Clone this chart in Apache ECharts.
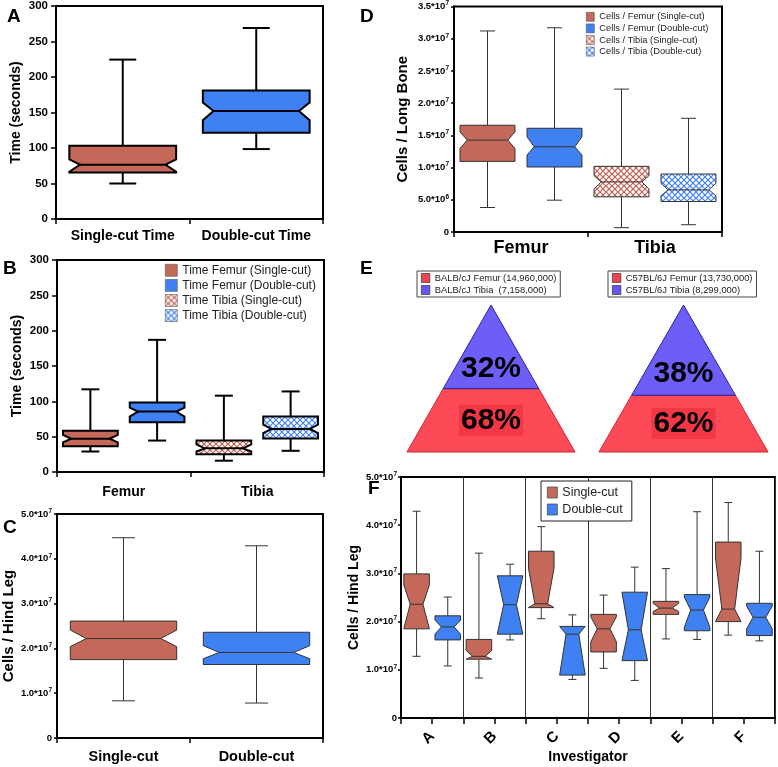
<!DOCTYPE html>
<html><head><meta charset="utf-8">
<script src="https://cdn.jsdelivr.net/npm/echarts@6/dist/echarts.min.js"></script>
<style>html,body{margin:0;padding:0;background:#fff}#c{width:778px;height:767px}</style>
</head><body><div id="c"></div>
<script>
// ---------- DATA ----------
// stats order for every box: [whiskerLow, q1, notchLow, median, notchHigh, q3, whiskerHigh]
const A_categories = ['Single-cut Time', 'Double-cut Time'];
const A_singleCut = [50, 65.5, 66.5, 76.5, 84, 103, 224.5];
const A_doubleCut = [98.5, 121.5, 139, 152, 164, 181, 269];

const B_categories = ['Femur', 'Tibia'];
const B_names = ['Time Femur (Single-cut)', 'Time Femur (Double-cut)', 'Time Tibia (Single-cut)', 'Time Tibia (Double-cut)'];
const B_femurSingle = [29, 36.5, 42, 47, 52.5, 58.5, 117];
const B_femurDouble = [44.5, 70.5, 78.5, 85.5, 91, 98.5, 187];
const B_tibiaSingle = [16, 25, 29, 33.5, 39, 44.5, 108];
const B_tibiaDouble = [30, 47.5, 55, 61, 67, 78.5, 114];

const C_categories = ['Single-cut', 'Double-cut'];
const C_singleCut = [8.3e6, 1.75e7, 2.04e7, 2.22e7, 2.41e7, 2.61e7, 4.47e7];
const C_doubleCut = [7.8e6, 1.64e7, 1.77e7, 1.91e7, 2.06e7, 2.36e7, 4.29e7];

const D_categories = ['Femur', 'Tibia'];
const D_names = ['Cells / Femur (Single-cut)', 'Cells / Femur (Double-cut)', 'Cells / Tibia (Single-cut)', 'Cells / Tibia (Double-cut)'];
const D_femurSingle = [3.8e6, 1.096e7, 1.297e7, 1.426e7, 1.554e7, 1.657e7, 3.12e7];
const D_femurDouble = [4.94e6, 1.009e7, 1.194e7, 1.323e7, 1.477e7, 1.61e7, 3.17e7];
const D_tibiaSingle = [6.7e5, 5.46e6, 6.69e6, 7.77e6, 8.75e6, 1.019e7, 2.218e7];
const D_tibiaDouble = [1.13e6, 4.73e6, 5.61e6, 6.54e6, 7.57e6, 9.0e6, 1.765e7];

const E_strains = ['BALB/cJ', 'C57BL/6J'];
const E_femurCells = [14960000, 13730000];
const E_tibiaCells = [7158000, 8299000];

const F_investigators = ['A', 'B', 'C', 'D', 'E', 'F'];
const F_names = ['Single-cut', 'Double-cut'];
const F_singleCut = [
  [1.28e7, 1.85e7, 1.85e7, 2.36e7, 2.76e7, 2.99e7, 4.29e7],
  [0.83e7, 1.22e7, 1.22e7, 1.28e7, 1.40e7, 1.63e7, 3.42e7],
  [2.06e7, 2.29e7, 2.29e7, 2.37e7, 3.11e7, 3.46e7, 3.97e7],
  [1.03e7, 1.37e7, 1.58e7, 1.85e7, 2.10e7, 2.15e7, 2.55e7],
  [1.64e7, 2.15e7, 2.21e7, 2.28e7, 2.38e7, 2.42e7, 3.10e7],
  [1.72e7, 2.00e7, 2.00e7, 2.26e7, 3.32e7, 3.65e7, 4.47e7]
];
const F_doubleCut = [
  [1.08e7, 1.62e7, 1.74e7, 1.89e7, 2.03e7, 2.12e7, 2.51e7],
  [1.62e7, 1.74e7, 1.74e7, 2.35e7, 2.95e7, 2.95e7, 3.19e7],
  [0.80e7, 0.89e7, 0.89e7, 1.74e7, 1.90e7, 1.90e7, 2.14e7],
  [0.78e7, 1.19e7, 1.19e7, 1.83e7, 2.61e7, 2.61e7, 3.13e7],
  [1.63e7, 1.81e7, 1.88e7, 2.24e7, 2.51e7, 2.56e7, 4.28e7],
  [1.60e7, 1.71e7, 1.85e7, 2.09e7, 2.32e7, 2.38e7, 3.46e7]
];

// ---------- STYLE ----------
const FONT = '"Liberation Sans", Arial, Helvetica, sans-serif';
const BROWN = '#c4695a';
const BLUE = '#3f80f3';
const E_RED = '#fc4a56';
const E_BLUE = '#6c5ef7';

function hatch(color) {
  const c = document.createElement('canvas');
  c.width = 6; c.height = 6;
  const g = c.getContext('2d');
  g.fillStyle = '#fff'; g.fillRect(0, 0, 6, 6);
  g.strokeStyle = color; g.lineWidth = 1.2;
  g.beginPath();
  g.moveTo(0, 0); g.lineTo(6, 6);
  g.moveTo(6, 0); g.lineTo(0, 6);
  g.stroke();
  return { image: c, repeat: 'repeat' };
}
const HATCH_BROWN = hatch('#c0604f');
const HATCH_BLUE = hatch('#3f80f3');

function boxRender(cfg) {
  return function (params, api) {
    const cat = api.value(0);
    const s = [1, 2, 3, 4, 5, 6, 7].map(i => api.value(i));
    const Y = v => api.coord([cat, v])[1];
    const band = api.size([1, 0])[0];
    const cx = api.coord([cat, s[3]])[0] + cfg.offset * band;
    const w = cfg.width * band;
    const x0 = cx - w / 2, x1 = cx + w / 2, ins = cfg.inset * w;
    const [yWL, yQ1, yNL, yMD, yNH, yQ3, yWH] = s.map(Y);
    const fill = cfg.fills[params.dataIndex % cfg.fills.length];
    const ls = { stroke: cfg.boxStroke, lineWidth: cfg.boxWidth };
    const ws = { stroke: cfg.whiskerStroke, lineWidth: cfg.whiskerWidth };
    const c = cfg.cap / 2;
    return {
      type: 'group', children: [
        { type: 'line', shape: { x1: cx, y1: yQ3, x2: cx, y2: yWH }, style: ws },
        { type: 'line', shape: { x1: cx - c, y1: yWH, x2: cx + c, y2: yWH }, style: ws },
        { type: 'line', shape: { x1: cx, y1: yQ1, x2: cx, y2: yWL }, style: ws },
        { type: 'line', shape: { x1: cx - c, y1: yWL, x2: cx + c, y2: yWL }, style: ws },
        { type: 'polygon', shape: { points: [[x0, yQ3], [x1, yQ3], [x1, yNH], [x1 - ins, yMD], [x1, yNL], [x1, yQ1], [x0, yQ1], [x0, yNL], [x0 + ins, yMD], [x0, yNH]] }, style: Object.assign({ fill: fill }, ls) },
        { type: 'line', shape: { x1: x0 + ins, y1: yMD, x2: x1 - ins, y2: yMD }, style: ls }
      ]
    };
  };
}

function boxSeries(name, xi, yi, rows, fills, cfg) {
  return {
    type: 'custom', name: name, xAxisIndex: xi, yAxisIndex: yi,
    itemStyle: { color: fills[0] },
    encode: { x: 0, y: [1, 2, 3, 4, 5, 6, 7] },
    data: rows.map(r => [r[0]].concat(r[1])),
    renderItem: boxRender(Object.assign({ fills: fills }, cfg)),
    z: 3
  };
}

const thick = { whiskerStroke: '#000', whiskerWidth: 2, boxStroke: '#000', boxWidth: 2 };
const thin = { whiskerStroke: '#333', whiskerWidth: 1, boxStroke: '#333', boxWidth: 1 };

function triRender(part) {
  return function (params, api) {
    const fem = api.value(0), tib = api.value(1);
    const t = tib / (fem + tib);
    const s = Math.sqrt(t);
    const P = (x, y) => api.coord([x, y]);
    if (part === 'tibia') {
      const tp = P(0, 1 - 0.765 * s);
      return {
        type: 'group', children: [
          { type: 'polygon', shape: { points: [P(0, 1), P(s, 1 - s), P(-s, 1 - s)] }, style: { fill: E_BLUE, stroke: '#2d1f9e', lineWidth: 1 } },
          { type: 'text', x: tp[0], y: tp[1], style: { text: Math.round(t * 100) + '%', font: 'bold 30px ' + FONT, fill: '#000', align: 'center', verticalAlign: 'middle' } }
        ]
      };
    }
    const bp = P(0, (1 - s) / 2);
    return {
      type: 'group', children: [
        { type: 'polygon', shape: { points: [P(-1, 0), P(1, 0), P(s, 1 - s), P(-s, 1 - s)] }, style: { fill: E_RED, stroke: '#d0202e', lineWidth: 1 } },
        { type: 'text', x: bp[0], y: bp[1], style: { text: Math.round((1 - t) * 100) + '%', font: 'bold 30px ' + FONT, fill: '#000', align: 'center', verticalAlign: 'middle', backgroundColor: 'rgba(225,20,40,0.35)', padding: [1, 2, 0, 2] } }
      ]
    };
  };
}

const fmt = n => n.toLocaleString('en-US');
const E_femurNames = E_strains.map((s, i) => s + ' Femur (' + fmt(E_femurCells[i]) + ')');
const E_tibiaNames = E_strains.map((s, i) => s + ' Tibia' + (i === 0 ? '  ' : ' ') + '(' + fmt(E_tibiaCells[i]) + ')');

function sci(v) {
  if (v === 0) return '{b|0}';
  const e = Math.floor(Math.log10(v) + 1e-9);
  const m = v / Math.pow(10, e);
  return '{b|' + m.toFixed(1) + '*10}{s|' + e + '}';
}
const sciRich = {
  b: { fontSize: 9.5, fontWeight: 'bold', color: '#000', lineHeight: 13, fontFamily: FONT },
  s: { fontSize: 6.5, fontWeight: 'bold', color: '#000', lineHeight: 7, verticalAlign: 'top', fontFamily: FONT }
};

const axLine = { show: true, onZero: false, lineStyle: { color: '#000', width: 2 } };
const tick = (len) => ({ show: true, length: len, lineStyle: { color: '#000', width: 1.5 } });
const gridBase = { show: true, borderColor: '#000', borderWidth: 2, backgroundColor: 'transparent' };
const catLabel = (size, margin) => ({ interval: 0, fontSize: size, fontWeight: 'bold', color: '#000', margin: margin });

const option = {
  animation: false,
  textStyle: { fontFamily: FONT },
  grid: [
    Object.assign({ left: 56, top: 5, width: 267, height: 214 }, gridBase),
    Object.assign({ left: 57, top: 260, width: 267, height: 212 }, gridBase),
    Object.assign({ left: 57, top: 514, width: 266, height: 224 }, gridBase),
    Object.assign({ left: 454, top: 6, width: 268, height: 226 }, gridBase),
    Object.assign({ left: 401, top: 477, width: 374, height: 241 }, gridBase),
    { left: 407, top: 305, width: 168, height: 147, show: false },
    { left: 599, top: 305, width: 169, height: 147, show: false }
  ],
  xAxis: [
    { type: 'category', gridIndex: 0, position: 'bottom', data: A_categories, axisLine: axLine, axisTick: tick(5), axisLabel: catLabel(14, 10) },
    { type: 'category', gridIndex: 1, position: 'bottom', data: B_categories, axisLine: axLine, axisTick: tick(5), axisLabel: catLabel(14, 13) },
    { type: 'category', gridIndex: 2, position: 'bottom', data: C_categories, axisLine: axLine, axisTick: tick(5), axisLabel: catLabel(14.5, 11) },
    { type: 'category', gridIndex: 3, position: 'bottom', data: D_categories, axisLine: axLine, axisTick: tick(5), axisLabel: catLabel(18, 7) },
    {
      // investigator axis: value scale so ticks land on both category centres and boundaries
      type: 'value', gridIndex: 4, position: 'bottom', min: -0.5, max: F_investigators.length - 0.5, interval: 0.5,
      axisLine: axLine, axisTick: tick(6), splitLine: { show: false },
      axisLabel: {
        fontSize: 15, fontWeight: 'bold', color: '#000', margin: 16, rotate: 45, showMinLabel: true, showMaxLabel: true,
        formatter: v => (Number.isInteger(v) ? F_investigators[v] : '')
      },
      name: 'Investigator', nameLocation: 'middle', nameGap: 32,
      nameTextStyle: { fontSize: 14, fontWeight: 'bold', color: '#000' }
    },
    // separator lines between investigators
    { type: 'value', gridIndex: 4, position: 'bottom', min: -0.5, max: F_investigators.length - 0.5, interval: 1, axisLine: { show: false, onZero: false }, axisTick: { show: false }, axisLabel: { show: false }, splitLine: { show: true, lineStyle: { color: '#333', width: 1 } } },
    { type: 'value', gridIndex: 5, min: -1, max: 1, show: false },
    { type: 'value', gridIndex: 6, min: -1, max: 1, show: false }
  ],
  yAxis: [
    { type: 'value', gridIndex: 0, min: 0, max: 300, interval: 50, axisLine: axLine, axisTick: tick(5), splitLine: { show: false }, axisLabel: { fontSize: 11.5, fontWeight: 'bold', color: '#000', margin: 8 }, name: 'Time (seconds)', nameLocation: 'middle', nameGap: 33, nameTextStyle: { fontSize: 14, fontWeight: 'bold', color: '#000' } },
    { type: 'value', gridIndex: 1, min: 0, max: 300, interval: 50, axisLine: axLine, axisTick: tick(5), splitLine: { show: false }, axisLabel: { fontSize: 11.5, fontWeight: 'bold', color: '#000', margin: 8 }, name: 'Time (seconds)', nameLocation: 'middle', nameGap: 33, nameTextStyle: { fontSize: 14, fontWeight: 'bold', color: '#000' } },
    { type: 'value', gridIndex: 2, min: 0, max: 5e7, interval: 1e7, axisLine: axLine, axisTick: tick(3), splitLine: { show: false }, axisLabel: { formatter: sci, rich: sciRich, margin: 5 }, name: 'Cells / Hind Leg', nameLocation: 'middle', nameGap: 41, nameTextStyle: { fontSize: 15, fontWeight: 'bold', color: '#000' } },
    { type: 'value', gridIndex: 3, min: 0, max: 3.5e7, interval: 5e6, axisLine: axLine, axisTick: tick(3), splitLine: { show: false }, axisLabel: { formatter: sci, rich: sciRich, margin: 5 }, name: 'Cells / Long Bone', nameLocation: 'middle', nameGap: 44, nameTextStyle: { fontSize: 15, fontWeight: 'bold', color: '#000' } },
    { type: 'value', gridIndex: 4, position: 'left', min: 0, max: 5e7, interval: 1e7, axisLine: axLine, axisTick: tick(3), splitLine: { show: false }, axisLabel: { formatter: sci, rich: sciRich, margin: 4 }, name: 'Cells / Hind Leg', nameLocation: 'middle', nameGap: 40, nameTextStyle: { fontSize: 14, fontWeight: 'bold', color: '#000' } },
    { type: 'value', gridIndex: 5, min: 0, max: 1, show: false },
    { type: 'value', gridIndex: 6, min: 0, max: 1, show: false }
  ],
  legend: [
    { left: 165, top: 264, orient: 'vertical', icon: 'rect', padding: 0, itemWidth: 12, itemHeight: 12, itemGap: 2.5, selectedMode: false, textStyle: { fontSize: 12, lineHeight: 12, color: '#222' }, itemStyle: { borderColor: '#555', borderWidth: 0.6 }, data: B_names },
    { left: 586, top: 12, orient: 'vertical', icon: 'rect', padding: 0, itemWidth: 8, itemHeight: 9, itemGap: 2, selectedMode: false, textStyle: { fontSize: 9.3, lineHeight: 9, color: '#222' }, itemStyle: { borderColor: '#555', borderWidth: 0.6 }, data: D_names },
    { left: 417, top: 271, orient: 'vertical', icon: 'rect', padding: [2, 4, 2, 4], borderColor: '#444', borderWidth: 1, backgroundColor: '#fff', itemWidth: 8.5, itemHeight: 9, itemGap: 2, selectedMode: false, textStyle: { fontSize: 9.4, lineHeight: 10, color: '#222' }, itemStyle: { borderColor: '#333', borderWidth: 0.7 }, data: [E_femurNames[0], E_tibiaNames[0]] },
    { left: 608, top: 271, orient: 'vertical', icon: 'rect', padding: [2, 4, 2, 4], borderColor: '#444', borderWidth: 1, backgroundColor: '#fff', itemWidth: 8.5, itemHeight: 9, itemGap: 2, selectedMode: false, textStyle: { fontSize: 9.4, lineHeight: 10, color: '#222' }, itemStyle: { borderColor: '#333', borderWidth: 0.7 }, data: [E_femurNames[1], E_tibiaNames[1]] },
    { left: 541, top: 481, orient: 'vertical', icon: 'rect', padding: [5, 9, 5, 6], borderColor: '#222', borderWidth: 1, backgroundColor: '#fff', itemWidth: 10, itemHeight: 11, itemGap: 4, selectedMode: false, textStyle: { fontSize: 12.5, lineHeight: 11, color: '#222' }, itemStyle: { borderColor: '#444', borderWidth: 0.7 }, data: F_names }
  ],
  graphic: [
    { type: 'text', left: 7, top: 7, style: { text: 'A', font: 'bold 19px ' + FONT, fill: '#000' } },
    { type: 'text', left: 3, top: 259, style: { text: 'B', font: 'bold 19px ' + FONT, fill: '#000' } },
    { type: 'text', left: 3, top: 518, style: { text: 'C', font: 'bold 19px ' + FONT, fill: '#000' } },
    { type: 'text', left: 360, top: 7, style: { text: 'D', font: 'bold 19px ' + FONT, fill: '#000' } },
    { type: 'text', left: 360, top: 259, style: { text: 'E', font: 'bold 19px ' + FONT, fill: '#000' } },
    { type: 'text', left: 368, top: 479, style: { text: 'F', font: 'bold 19px ' + FONT, fill: '#000' } }
  ],
  series: [
    boxSeries('Panel A', 0, 0, [[0, A_singleCut], [1, A_doubleCut]], [BROWN, BLUE], Object.assign({ offset: 0, width: 0.8, inset: 0.1, cap: 27 }, thick)),
    boxSeries(B_names[0], 1, 1, [[0, B_femurSingle]], [BROWN], Object.assign({ offset: -0.25, width: 0.41, inset: 0.15, cap: 18 }, thick)),
    boxSeries(B_names[1], 1, 1, [[0, B_femurDouble]], [BLUE], Object.assign({ offset: 0.25, width: 0.41, inset: 0.15, cap: 18 }, thick)),
    boxSeries(B_names[2], 1, 1, [[1, B_tibiaSingle]], [HATCH_BROWN], Object.assign({ offset: -0.25, width: 0.41, inset: 0.15, cap: 18 }, thick)),
    boxSeries(B_names[3], 1, 1, [[1, B_tibiaDouble]], [HATCH_BLUE], Object.assign({ offset: 0.25, width: 0.41, inset: 0.15, cap: 18 }, thick)),
    boxSeries('Panel C', 2, 2, [[0, C_singleCut], [1, C_doubleCut]], [BROWN, BLUE], Object.assign({ offset: 0, width: 0.8, inset: 0.15, cap: 23 }, thin)),
    boxSeries(D_names[0], 3, 3, [[0, D_femurSingle]], [BROWN], Object.assign({ offset: -0.25, width: 0.41, inset: 0.13, cap: 15 }, thin)),
    boxSeries(D_names[1], 3, 3, [[0, D_femurDouble]], [BLUE], Object.assign({ offset: 0.25, width: 0.41, inset: 0.13, cap: 15 }, thin)),
    boxSeries(D_names[2], 3, 3, [[1, D_tibiaSingle]], [HATCH_BROWN], Object.assign({ offset: -0.25, width: 0.41, inset: 0.13, cap: 15 }, thin)),
    boxSeries(D_names[3], 3, 3, [[1, D_tibiaDouble]], [HATCH_BLUE], Object.assign({ offset: 0.25, width: 0.41, inset: 0.13, cap: 15 }, thin)),
    boxSeries(F_names[0], 4, 4, F_singleCut.map((r, i) => [i, r]), [BROWN], Object.assign({ offset: -0.25, width: 0.41, inset: 0.25, cap: 8 }, thin)),
    boxSeries(F_names[1], 4, 4, F_doubleCut.map((r, i) => [i, r]), [BLUE], Object.assign({ offset: 0.25, width: 0.41, inset: 0.25, cap: 8 }, thin)),
    { type: 'custom', name: E_femurNames[0], xAxisIndex: 6, yAxisIndex: 5, itemStyle: { color: '#f04550' }, data: [[E_femurCells[0], E_tibiaCells[0]]], renderItem: triRender('femur') },
    { type: 'custom', name: E_tibiaNames[0], xAxisIndex: 6, yAxisIndex: 5, itemStyle: { color: '#6655f0' }, data: [[E_femurCells[0], E_tibiaCells[0]]], renderItem: triRender('tibia') },
    { type: 'custom', name: E_femurNames[1], xAxisIndex: 7, yAxisIndex: 6, itemStyle: { color: '#f04550' }, data: [[E_femurCells[1], E_tibiaCells[1]]], renderItem: triRender('femur') },
    { type: 'custom', name: E_tibiaNames[1], xAxisIndex: 7, yAxisIndex: 6, itemStyle: { color: '#6655f0' }, data: [[E_femurCells[1], E_tibiaCells[1]]], renderItem: triRender('tibia') }
  ]
};

const chart = echarts.init(document.getElementById('c'), null, { renderer: 'canvas' });
chart.setOption(option);
</script></body></html>
